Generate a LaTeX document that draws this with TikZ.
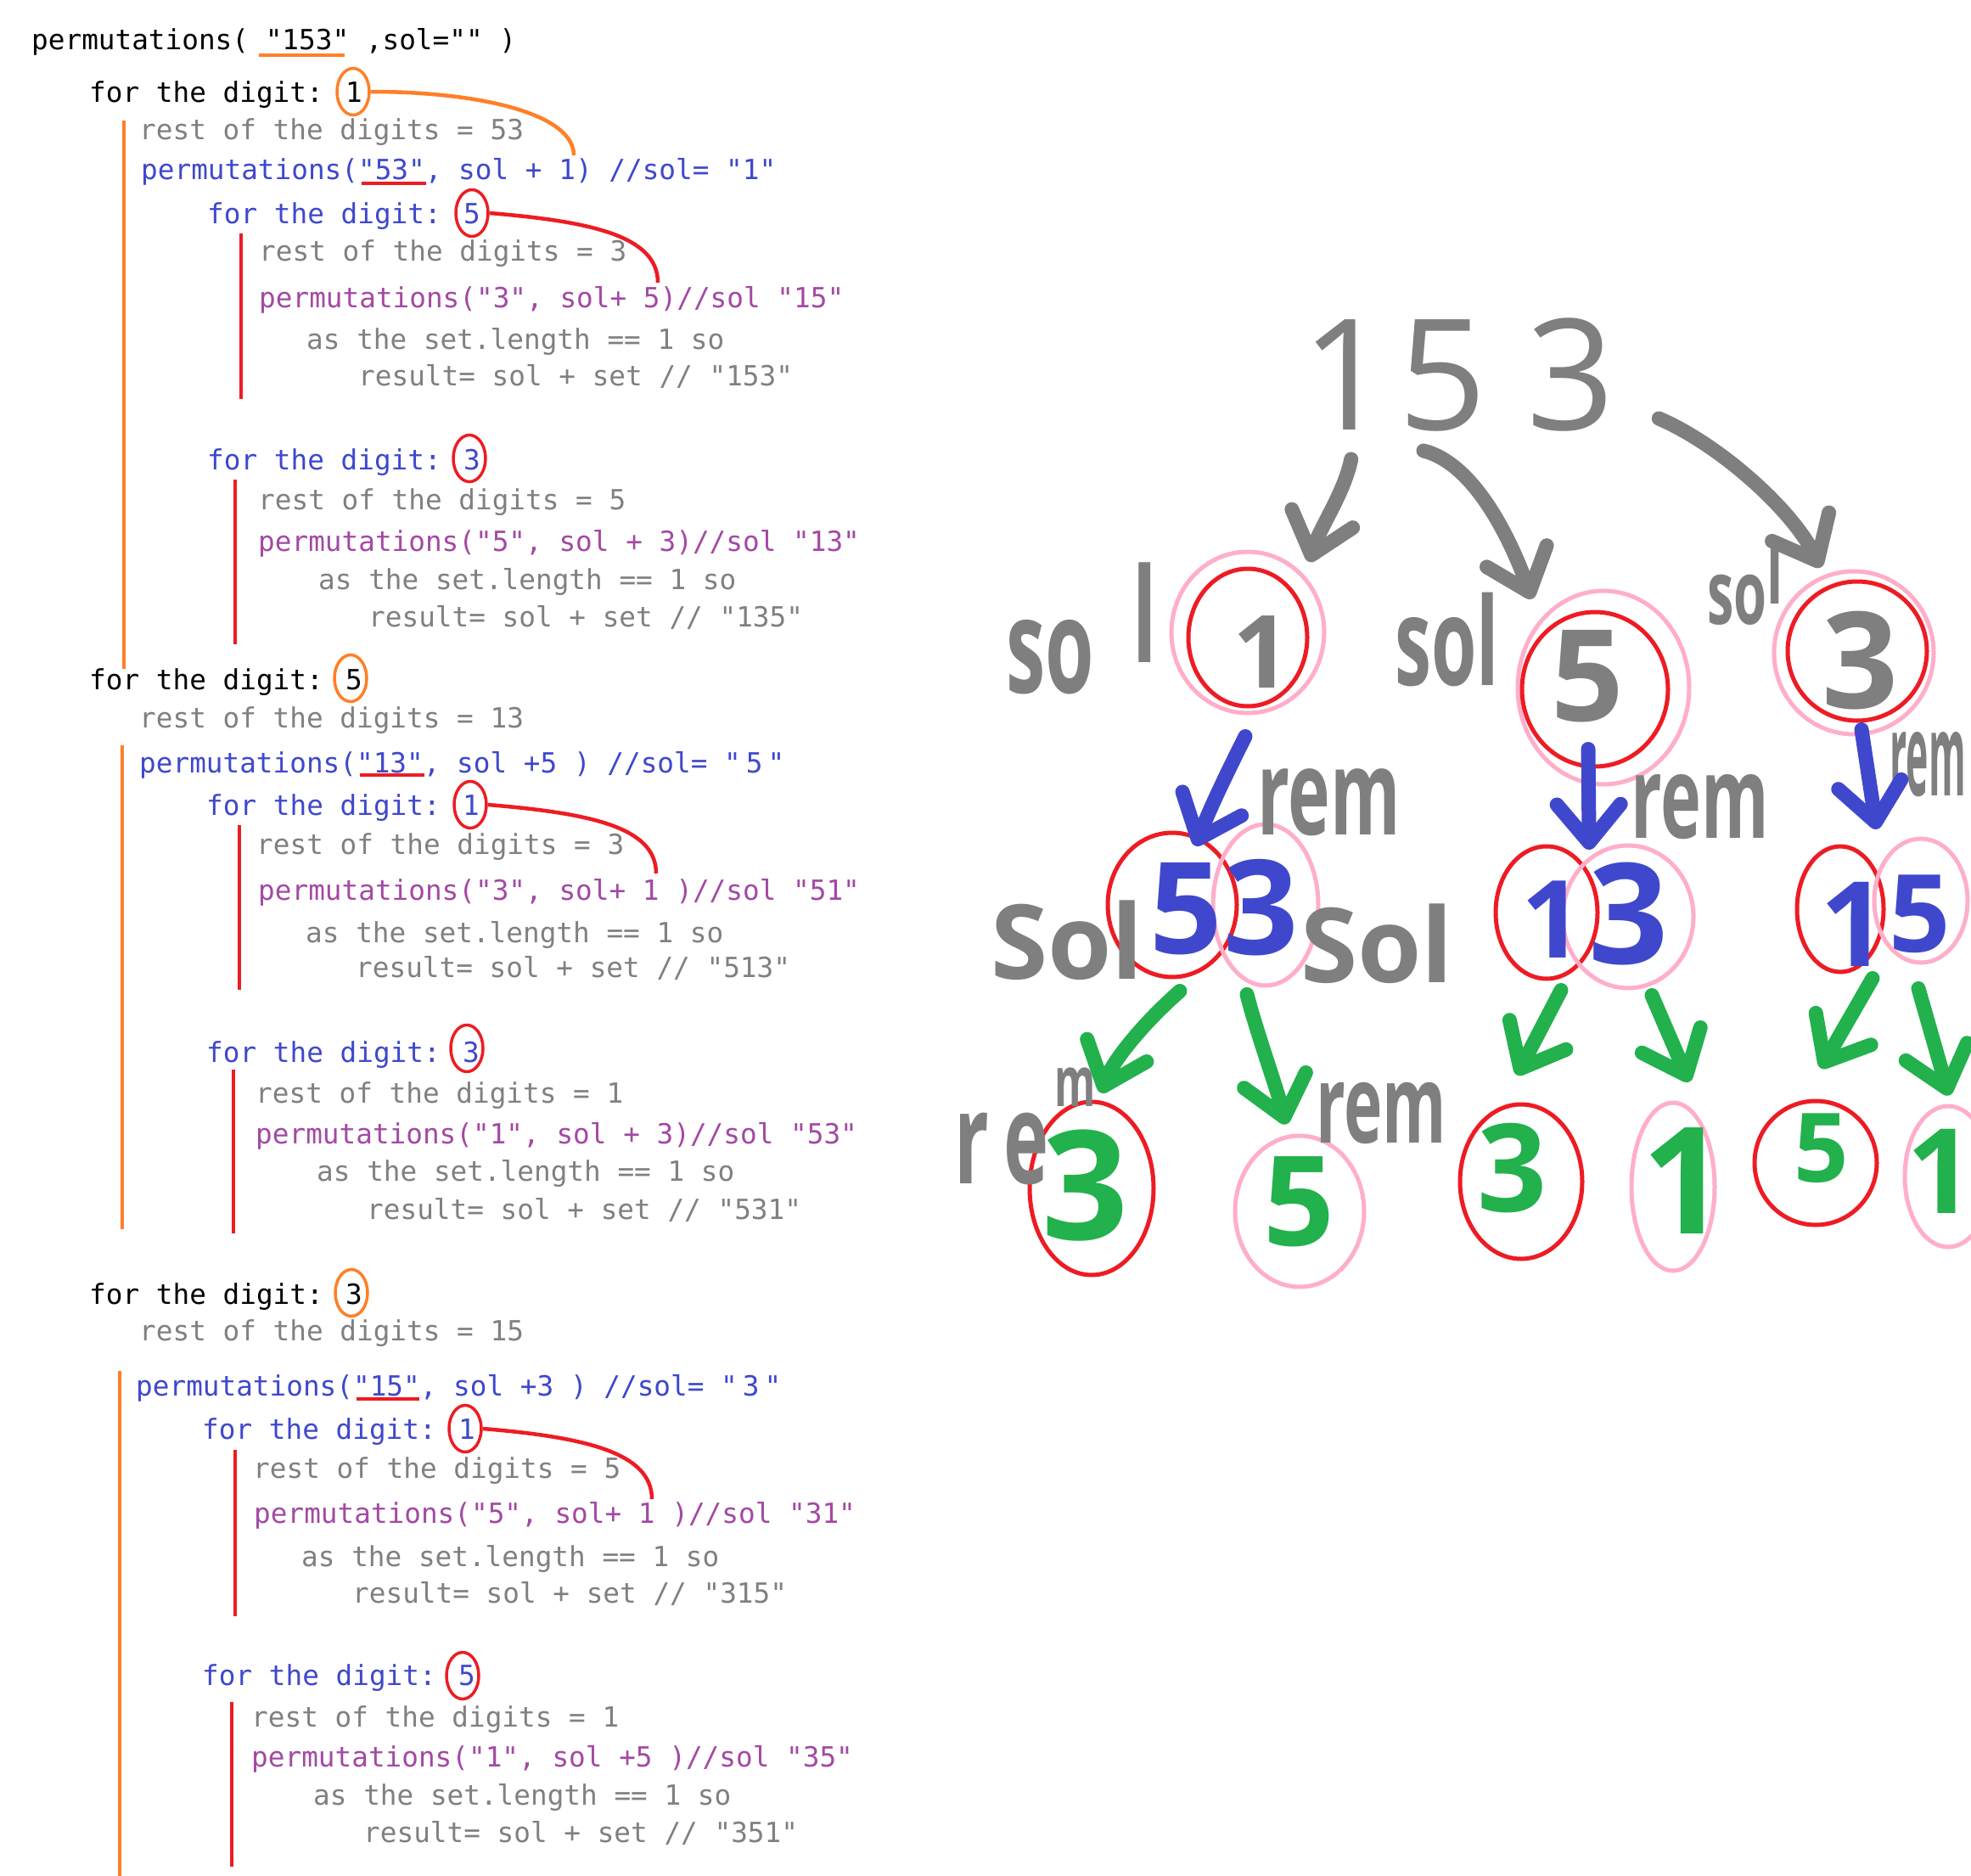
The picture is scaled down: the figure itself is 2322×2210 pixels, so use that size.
\documentclass[tikz,border=0pt]{standalone}
\usepackage{fontspec}
\usepackage{xcolor}
\usepackage{tikz}
\usetikzlibrary{arrows.meta,positioning,shapes.geometric}

\newfontfamily\codefont{DejaVu Sans Mono}
\newfontfamily\handfont{Open Sans}
\newfontfamily\handnarrow[FakeStretch=0.6]{Open Sans}

\definecolor{codegray}{HTML}{808080}
\definecolor{codeblue}{HTML}{3F48CC}
\definecolor{codepurple}{HTML}{A349A4}
\definecolor{pengray}{HTML}{7F7F7F}
\definecolor{penred}{HTML}{ED1C24}
\definecolor{penpink}{HTML}{FFAEC9}
\definecolor{penorange}{HTML}{FF7F27}
\definecolor{pengreen}{HTML}{22B14C}
\definecolor{penblue}{HTML}{3F48CC}

\begin{document}
\begin{tikzpicture}[x=1pt, y=-1pt,
  ln/.style={anchor=base west, inner sep=0pt, font=\codefont\fontsize{32.7}{36}\selectfont},
  lnplain/.style={ln, text=black},
  lngray/.style={ln, text=codegray},
  lnblue/.style={ln, text=codeblue},
  lnpurple/.style={ln, text=codepurple},
  pick/.style={draw=#1, ellipse, line width=3.5pt, inner sep=0pt, minimum width=38pt, minimum height=55pt},
  vbar/.style={line width=4.5pt},
  digit/.style={inner sep=0pt, font=\handfont\bfseries\fontsize{#1}{#1}\selectfont},
  word/.style={anchor=base west, inner sep=0pt, text=pengray, font=\handnarrow\bfseries\fontsize{#1}{#1}\selectfont},
  ring/.style 2 args={draw, ellipse, line width=5pt, inner sep=0pt, minimum width=#1pt, minimum height=#2pt},
  penarrow/.style={line width=17pt, line cap=round, line join=round, -{Straight Barb[length=45pt, width=75pt, round]}}
]
\useasboundingbox (0,0) rectangle (2322,2210);
\clip (0,0) rectangle (2322,2210);
\fill[white] (0,0) rectangle (2322,2210);

% the trace of the calls
\node[lnplain] (root) at (37,59) {permutations( "153" ,sol="" )};
\node[lnplain] (for1) at (105,121) {for the digit: 1};
\node[lngray] (rest1) at (164,165) {rest of the digits = 53};
\node[lnblue] (call1) at (166,212) {permutations("53", sol + 1) //sol= "1"};
\node[lnblue] (for15) at (244,263) {for the digit: 5};
\node[lngray] (rest15) at (305,307) {rest of the digits = 3};
\node[lnpurple] (call15) at (305,362) {permutations("3", sol+ 5)//sol "15"};
\node[lngray] (len15) at (361,411) {as the set.length == 1 so};
\node[lngray] (res15) at (422,454) {result= sol + set // "153"};
\node[lnblue] (for13) at (244,553) {for the digit: 3};
\node[lngray] (rest13) at (304,600) {rest of the digits = 5};
\node[lnpurple] (call13) at (304,649) {permutations("5", sol + 3)//sol "13"};
\node[lngray] (len13) at (375,694) {as the set.length == 1 so};
\node[lngray] (res13) at (434,738) {result= sol + set // "135"};

\node[lnplain] (for5) at (105,812) {for the digit: 5};
\node[lngray] (rest5) at (164,857) {rest of the digits = 13};
\node[lnblue] (call5) at (164,910) {permutations("13", sol +5 ) //sol= "\kern6pt5\kern6pt"};
\node[lnblue] (for51) at (243,960) {for the digit: 1};
\node[lngray] (rest51) at (302,1006) {rest of the digits = 3};
\node[lnpurple] (call51) at (304,1060) {permutations("3", sol+ 1 )//sol "51"};
\node[lngray] (len51) at (360,1110) {as the set.length == 1 so};
\node[lngray] (res51) at (419,1151) {result= sol + set // "513"};
\node[lnblue] (for53) at (243,1251) {for the digit: 3};
\node[lngray] (rest53) at (301,1299) {rest of the digits = 1};
\node[lnpurple] (call53) at (301,1347) {permutations("1", sol + 3)//sol "53"};
\node[lngray] (len53) at (373,1391) {as the set.length == 1 so};
\node[lngray] (res53) at (432,1436) {result= sol + set // "531"};

\node[lnplain] (for3) at (105,1536) {for the digit: 3};
\node[lngray] (rest3) at (164,1579) {rest of the digits = 15};
\node[lnblue] (call3) at (160,1644) {permutations("15", sol +3 ) //sol= "\kern6pt3\kern6pt"};
\node[lnblue] (for31) at (238,1695) {for the digit: 1};
\node[lngray] (rest31) at (298,1741) {rest of the digits = 5};
\node[lnpurple] (call31) at (299,1794) {permutations("5", sol+ 1 )//sol "31"};
\node[lngray] (len31) at (355,1845) {as the set.length == 1 so};
\node[lngray] (res31) at (415,1888) {result= sol + set // "315"};
\node[lnblue] (for35) at (238,1985) {for the digit: 5};
\node[lngray] (rest35) at (296,2034) {rest of the digits = 1};
\node[lnpurple] (call35) at (296,2081) {permutations("1", sol +5 )//sol "35"};
\node[lngray] (len35) at (369,2126) {as the set.length == 1 so};
\node[lngray] (res35) at (428,2170) {result= sol + set // "351"};

% circled digits and where they go
\node[pick=penorange] (pick1) at (416,108) {};
\node[pick=penred] (pick15) at (556,251) {};
\node[pick=penred] (pick13) at (553,540) {};
\node[pick=penorange] (pick5) at (413,799) {};
\node[pick=penred] (pick51) at (554,948) {};
\node[pick=penred] (pick53) at (550,1235) {};
\node[pick=penorange] (pick3) at (414,1523) {};
\node[pick=penred] (pick31) at (548,1683) {};
\node[pick=penred] (pick35) at (545,1974) {};

\coordinate (pick1end) at (676,183);
\coordinate (pick15end) at (775,333);
\coordinate (pick51end) at (773,1029);
\coordinate (pick31end) at (768,1766);
\draw[vbar, penorange] (pick1.east) .. controls +(125,0) and +(0,-50) .. (pick1end);
\draw[vbar, penred] (pick15.east) .. controls +(120,10) and +(0,-55) .. (pick15end);
\draw[vbar, penred] (pick51.east) .. controls +(120,10) and +(0,-55) .. (pick51end);
\draw[vbar, penred] (pick31.east) .. controls +(120,10) and +(0,-55) .. (pick31end);

% underlines and loop bars
\draw[vbar, penorange] (305,65) -- (406,65);
\draw[vbar, penred] (426,216) -- (502,216);
\draw[vbar, penred] (424,913) -- (500,913);
\draw[vbar, penred] (420,1648) -- (494,1648);
\draw[vbar, penorange] (146,142) -- (146,788);
\draw[vbar, penorange] (144,878) -- (144,1448);
\draw[vbar, penorange] (141,1615) -- (141,2210);
\draw[vbar, penred] (284,275) -- (284,470);
\draw[vbar, penred] (277,565) -- (277,759);
\draw[vbar, penred] (282,972) -- (282,1166);
\draw[vbar, penred] (275,1260) -- (275,1453);
\draw[vbar, penred] (277,1708) -- (277,1904);
\draw[vbar, penred] (273,2005) -- (273,2199);

% the tree
\node[inner sep=0pt, text=pengray, font=\handfont\fontsize{182}{182}\selectfont] (top) at (1718,441) {1\kern10pt5\kern46pt3};

\node[ring={180}{190}, draw=penpink] (t1o) at (1470,745) {};
\node[ring={140}{162}, draw=penred] (t1) at (1470,751) {};
\node[digit=119, text=pengray] (n1) at (1486,768) {1};
\node[ring={202}{228}, draw=penpink] (t5o) at (1889,810) {};
\node[ring={172}{182}, draw=penred] (t5) at (1879,812) {};
\node[digit=150, text=pengray] (n5) at (1870,797) {5};
\node[ring={188}{192}, draw=penpink] (t3o) at (2184,769) {};
\node[ring={164}{164}, draw=penred] (t3) at (2188,767) {};
\node[digit=158, text=pengray] (n3) at (2192,778) {3};

\node[word=155] (sol1) at (1185,816) {so\kern45pt\raisebox{36pt}{l}};
\node[word=144] (sol5) at (1643,807) {sol};
\node[word=105] (sol3) at (2011,735) {so\raisebox{24pt}{l}};

\node[ring={152}{170}, draw=penred] (t15) at (1381,1066) {};
\node[ring={124}{190}, draw=penpink] (t13) at (1491,1066) {};
\node[ring={120}{156}, draw=penred] (t51) at (1822,1075) {};
\node[ring={154}{168}, draw=penpink] (t53) at (1918,1080) {};
\node[ring={102}{148}, draw=penred] (t31) at (2168,1071) {};
\node[ring={110}{146}, draw=penpink] (t35) at (2263,1061) {};
\node[digit=150, text=penblue] (n15) at (1397,1071) {5};
\node[digit=155, text=penblue] (n13) at (1486,1069) {3};
\node[digit=127, text=penblue] (n51) at (1829,1083) {1};
\node[digit=165, text=penblue] (n53) at (1919,1077) {3};
\node[digit=139, text=penblue] (n31) at (2184,1089) {1};
\node[digit=127, text=penblue] (n35) at (2262,1077) {5};

\node[word=122, font=\handfont\bfseries\fontsize{122}{122}\selectfont] (solL) at (1167,1153) {Sol};
\node[word=122, font=\handfont\bfseries\fontsize{122}{122}\selectfont] (solR) at (1532,1157) {Sol};
\node[word=140] (rem1) at (1481,983) {rem};
\node[word=135] (rem5) at (1921,987) {rem};
\node[word=135, anchor=base east] (rem3) at (2316,937) {\scalebox{0.55}[1]{rem}};

\node[ring={146}{204}, draw=penred] (t153) at (1286,1400) {};
\node[ring={152}{178}, draw=penpink] (t135) at (1531,1427) {};
\node[ring={144}{182}, draw=penred] (t513) at (1792,1392) {};
\node[ring={98}{198}, draw=penpink] (t531) at (1971,1398) {};
\node[ring={144}{146}, draw=penred] (t315) at (2139,1370) {};
\node[ring={102}{166}, draw=penpink] (t351) at (2295,1386) {};
\node[digit=179, text=pengreen] (n153) at (1279,1397) {3};
\node[digit=147, text=pengreen] (n135) at (1530,1416) {5};
\node[digit=144, text=pengreen] (n513) at (1782,1376) {3};
\node[digit=175, text=pengreen] (n531) at (1984,1391) {1};
\node[digit=113, text=pengreen] (n315) at (2146,1353) {5};
\node[digit=139, text=pengreen] (n351) at (2286,1380) {1};

\node[word=150] (remA) at (1124,1394) {r\kern18pt e};
\node[word=82] (remAm) at (1242,1303) {m};
\node[word=128] (remB) at (1550,1346) {rem};

\draw[penarrow, pengray] ([shift={(58,33)}]top.south west) .. controls +(-8,40) and +(12,-40) .. ([shift={(7,-14)}]t1o.north east);
\draw[penarrow, pengray] ([shift={(-41,23)}]top.south) .. controls +(60,15) and +(-25,-70) .. ([shift={(-11,-22)}]t5o.north west);
\draw[penarrow, pengray] ([shift={(52,52)}]top.east) .. controls +(70,30) and +(-35,-70) .. ([shift={(-39,-2)}]t3o.north);

\draw[penarrow, penblue] ([shift={(-3,25)}]t1o.south) .. controls +(-20,40) and +(20,-50) .. ([shift={(27,18)}]t15.north);
\draw[penarrow, penblue] ([shift={(-8,-23)}]t5.south) -- ([shift={(6,-17)}]t51.north east);
\draw[penarrow, penblue] ([shift={(9,-8)}]t3o.south) -- ([shift={(5,-40)}]t31.north east);

\draw[penarrow, pengreen] ([shift={(9,14)}]t15.south) .. controls +(-40,35) and +(15,-40) .. ([shift={(11,-8)}]t153.north);
\draw[penarrow, pengreen] ([shift={(-22,8)}]t13.south) .. controls +(10,40) and +(-10,-40) .. ([shift={(-16,-11)}]t135.north);
\draw[penarrow, pengreen] ([shift={(17,11)}]t51.south) -- ([shift={(-5,-32)}]t513.north);
\draw[penarrow, pengreen] ([shift={(28,6)}]t53.south) -- ([shift={(19,-22)}]t531.north);
\draw[penarrow, pengreen] ([shift={(38,5)}]t31.south) -- ([shift={(6,-36)}]t315.north);
\draw[penarrow, pengreen] ([shift={(-3,28)}]t35.south) -- ([shift={(1,-10)}]t351.north);
\end{tikzpicture}
\end{document}
